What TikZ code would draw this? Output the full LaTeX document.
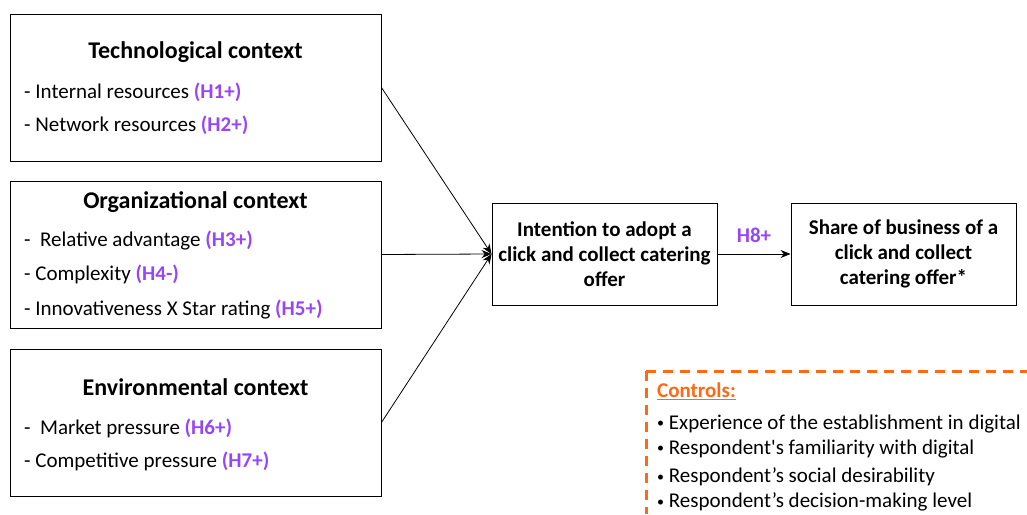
\documentclass[tikz,border=0pt]{standalone}
\usepackage{fontspec}
\setmainfont{Carlito}
\usetikzlibrary{arrows.meta,positioning}
\definecolor{hypviolet}{RGB}{150,70,250}
\definecolor{ctrlorange}{RGB}{255,105,20}
\newcommand{\hyp}[1]{{\bfseries\color{hypviolet}#1}}
\newcommand{\ctrlbullet}{\raisebox{1.5pt}{\fontsize{14}{14}\selectfont•}\ }
\tikzset{
  ctxbox/.style={draw, line width=0.9pt, minimum width=371pt, minimum height=147pt, inner sep=0pt},
  outbox/.style={draw, line width=0.9pt, minimum width=225pt, minimum height=102pt, inner sep=0pt,
    align=center, font=\fontsize{21}{25}\selectfont\bfseries},
  ctxtitle/.style={font=\fontsize{24}{28}\selectfont\bfseries, inner sep=0pt},
  item/.style={anchor=west, font=\fontsize{21}{25}\selectfont, inner sep=0pt},
  link/.style={line width=0.8pt, -{Stealth[length=10pt,width=8pt]}}
}
\begin{document}
\begin{tikzpicture}[x=1pt,y=-1pt]
\useasboundingbox (0,0) rectangle (1027,514);
% context boxes
\node[ctxbox] (tech) at (195.5,87.5) {};
\node[ctxbox] (orga) at (195.5,254.5) {};
\node[ctxbox] (envi) at (195.5,422.5) {};
\node[ctxtitle] (techT) at (195.5,52) {Technological context};
\node[item] (h1) at (24,92) {- Internal resources \hyp{(H1+)}};
\node[item] (h2) at (24,125) {- Network resources \hyp{(H2+)}};
\node[ctxtitle] (orgaT) at (195.5,202) {Organizational context};
\node[item] (h3) at (24,241) {-\ \ Relative advantage \hyp{(H3+)}};
\node[item] (h4) at (24,274) {- Complexity \hyp{(H4-)}};
\node[item] (h5) at (24,310) {- Innovativeness X Star rating \hyp{(H5+)}};
\node[ctxtitle] (enviT) at (195.5,387) {Environmental context};
\node[item] (h6) at (24,428) {-\ \ Market pressure \hyp{(H6+)}};
\node[item] (h7) at (24,461) {- Competitive pressure \hyp{(H7+)}};
% intention and outcome
\node[outbox] (intent) at (604.5,254) {Intention to adopt a\\click and collect catering\\offer};
\node[outbox] (share) at (903.5,254) {Share of business of a\\click and collect\\catering offer*};
\draw[link] (tech.east) -- (intent.west);
\draw[link] (orga.east) -- (intent.west);
\draw[link] (envi.east) -- (intent.west);
\draw[link] (intent) -- node[above=8pt, font=\fontsize{21}{25}\selectfont] (h8) {\hyp{H8+}} (share);
% controls
\draw[ctrlorange, line width=3pt, dash pattern=on 10pt off 7pt] (646,371) -- (1027,371);
\draw[ctrlorange, line width=3pt, dash pattern=on 10pt off 7pt] (646,371) -- (646,514);
\node[item, text=ctrlorange] (ctrl) at (657,391) {\bfseries\underline{Controls:}};
\node[item] (c1) at (657,424) {\ctrlbullet Experience of the establishment in digital};
\node[item] (c2) at (657,449) {\ctrlbullet Respondent\textquotesingle s familiarity with digital};
\node[item] (c3) at (657,477) {\ctrlbullet Respondent’s social desirability};
\node[item] (c4) at (657,502) {\ctrlbullet Respondent’s decision-making level};
\end{tikzpicture}
\end{document}
